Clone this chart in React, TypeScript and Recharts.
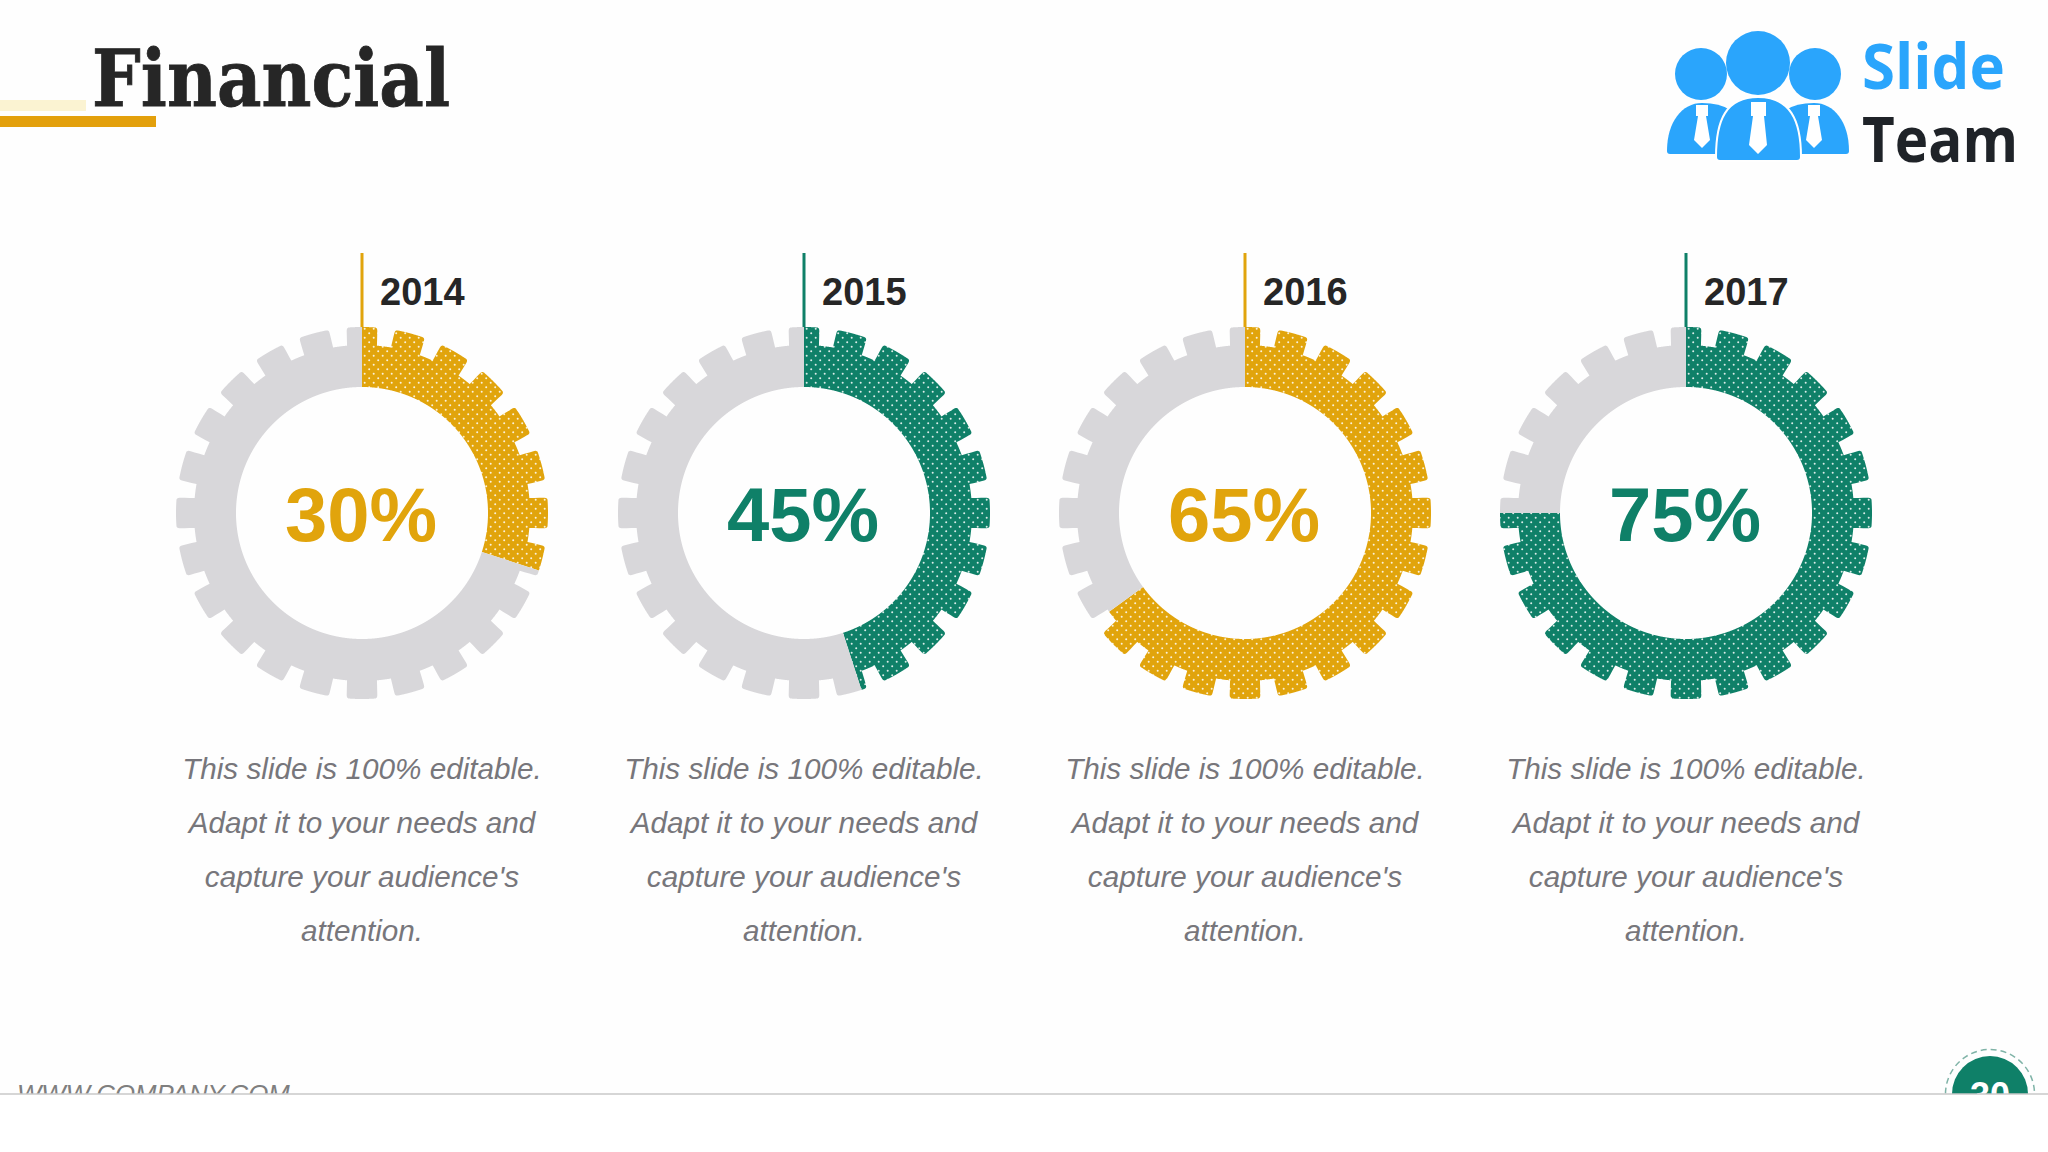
import { Cell, Pie, PieChart } from "recharts";

// chart values
const years = ["2014", "2015", "2016", "2017"];
const shares = [30, 45, 65, 75];
const shareColors = ["#E1A40C", "#0F8068", "#E1A40C", "#0F8068"];
const descriptionLines = [
  "This slide is 100% editable.",
  "Adapt it to your needs and",
  "capture your audience's",
  "attention.",
];

const TRACK = "#D8D7DA";
const SANS = "'Liberation Sans', Arial, sans-serif";
const CHART_W = 440;
const CHART_H = 720;
const CX = 220;
const CY = 263;
const centers = [362, 803.5, 1245, 1686];

const TEETH = 24;
const TOOTH_HEIGHT = 18;

// radius of the gear rim at a clockwise angle from 12 o'clock
function rimRadius(deg: number, outer: number) {
  const pitch = 360 / TEETH;
  const wrapped = ((deg % pitch) + pitch) % pitch;
  const d = Math.min(wrapped, pitch - wrapped);
  const root = outer - TOOTH_HEIGHT;
  if (d <= 4) return outer;
  if (d <= 4.8) {
    // rounded tooth corner
    const t = (d - 4) / 0.8;
    return outer - 3 * (1 - Math.sqrt(1 - t * t));
  }
  if (d <= 5.1) return outer - 3 - ((d - 4.8) / 0.3) * (TOOTH_HEIGHT - 3);
  return root;
}

function GearSector(props: any) {
  const { cx, cy, innerRadius, outerRadius, startAngle, endAngle, fill } = props;
  const from = 90 - startAngle;
  const to = 90 - endAngle;
  const pts: string[] = [];
  const polar = (deg: number, r: number) => {
    const a = (deg * Math.PI) / 180;
    return `${(cx + r * Math.sin(a)).toFixed(2)} ${(cy - r * Math.cos(a)).toFixed(2)}`;
  };
  const steps = Math.ceil((to - from) / 0.1);
  for (let i = 0; i <= steps; i++) {
    const deg = from + ((to - from) * i) / steps;
    pts.push(polar(deg, rimRadius(deg, outerRadius)));
  }
  for (let i = steps; i >= 0; i--) {
    const deg = from + ((to - from) * i) / steps;
    pts.push(polar(deg, innerRadius));
  }
  return <path d={`M${pts.join("L")}Z`} fill={fill} stroke="none" />;
}

function GearDonut({ index }: { index: number }) {
  const share = shares[index];
  const color = shareColors[index];
  const patternId = `dots-${index}`;
  const data = [
    { name: "share", value: share },
    { name: "rest", value: 100 - share },
  ];
  return (
    <div style={{ position: "absolute", left: centers[index] - CX, top: 250 }}>
      <PieChart width={CHART_W} height={CHART_H} margin={{ top: 0, right: 0, bottom: 0, left: 0 }}>
        <defs>
          <pattern id={patternId} width="9" height="9" patternUnits="userSpaceOnUse">
            <rect width="9" height="9" fill={color} />
            <circle cx="2.2" cy="2.2" r="1" fill="#FFFFFF" fillOpacity={0.85} />
            <circle cx="6.7" cy="6.7" r="1" fill="#FFFFFF" fillOpacity={0.85} />
          </pattern>
        </defs>
        <line x1={CX} x2={CX} y1={3} y2={78} stroke={color} strokeWidth={3} />
        <text x={CX + 18} y={55} fontFamily={SANS} fontWeight={700} fontSize={38} fill="#262626">
          {years[index]}
        </text>
        <Pie
          data={data}
          dataKey="value"
          cx={CX}
          cy={CY}
          innerRadius={126}
          outerRadius={186}
          startAngle={90}
          endAngle={-270}
          stroke="none"
          isAnimationActive={false}
          shape={GearSector}
        >
          <Cell fill={`url(#${patternId})`} />
          <Cell fill={TRACK} />
        </Pie>
        <text x={CX - 1} y={CY + 28} textAnchor="middle" fontFamily={SANS} fontWeight={700} fontSize={76} fill={color}>
          {share}%
        </text>
        {descriptionLines.map((line, i) => (
          <text
            key={line}
            x={CX}
            y={529 + i * 54}
            textAnchor="middle"
            fontFamily={SANS}
            fontStyle="italic"
            fontSize={29.7}
            fill="#77767B"
          >
            {line}
          </text>
        ))}
      </PieChart>
    </div>
  );
}

function Logo() {
  return (
    <svg width={2048} height={200} style={{ position: "absolute", left: 0, top: 0 }}>
      <circle cx={1701} cy={74} r={26} fill="#2AA5FC" />
      <circle cx={1815} cy={74} r={26} fill="#2AA5FC" />
      <circle cx={1758} cy={63} r={32} fill="#2AA5FC" />
      <path d="M1667 151Q1667 154 1670 154H1730V110Q1720 103 1702 103C1682 103 1667 122 1667 151Z" fill="#2AA5FC" />
      <path d="M1849 151Q1849 154 1846 154H1786V110Q1796 103 1814 103C1834 103 1849 122 1849 151Z" fill="#2AA5FC" />
      <path
        d="M1716 157Q1716 161 1720 161H1797Q1801 161 1801 157C1801 120 1790 97 1758 97C1726 97 1716 120 1716 157Z"
        fill="#2AA5FC"
        stroke="#FFFFFF"
        strokeWidth={2}
      />
      <path d="M1751 102H1766V116H1764L1767 145L1758 154L1749 145L1753 116H1751Z" fill="#FFFFFF" />
      <path d="M1696 105H1708V116H1706L1710 140L1702 148L1694 140L1698 116H1696Z" fill="#FFFFFF" />
      <path d="M1808 105H1820V116H1818L1822 140L1814 148L1806 140L1810 116H1808Z" fill="#FFFFFF" />
      <text x={1862} y={89} fontFamily="'Open Sans'" fontWeight={700} fontSize={62} fill="#2AA5FC" textLength={143} lengthAdjust="spacingAndGlyphs">
        Slide
      </text>
      <text x={1862} y={162} fontFamily="'Open Sans'" fontWeight={700} fontSize={62} fill="#1F2328" textLength={156} lengthAdjust="spacingAndGlyphs">
        Team
      </text>
    </svg>
  );
}

function Footer() {
  return (
    <svg width={2048} height={1152} style={{ position: "absolute", left: 0, top: 0, pointerEvents: "none" }}>
      <text x={17} y={1103} fontFamily={SANS} fontStyle="italic" fontSize={25.8} fill="#7F7F7F">
        WWW.COMPANY.COM
      </text>
      <circle cx={1990} cy={1094} r={44.5} fill="none" stroke="#7FB3A7" strokeWidth={1.5} strokeDasharray="6 4" />
      <circle cx={1990} cy={1094} r={38} fill="#0F8068" />
      <text x={1990} y={1108} textAnchor="middle" fontFamily={SANS} fontWeight={700} fontSize={36} fill="#FFFFFF">
        30
      </text>
      <rect x={0} y={1094} width={2048} height={58} fill="#FFFFFF" />
      <line x1={0} x2={2048} y1={1094} y2={1094} stroke="#C9C9C9" strokeWidth={1.5} />
    </svg>
  );
}

export default function App() {
  return (
    <div style={{ position: "absolute", left: 0, top: 0, width: 2048, height: 1152, background: "#FEFEFE", overflow: "hidden" }}>
      <div style={{ position: "absolute", left: 0, top: 100, width: 86, height: 11, background: "#FBF3D2" }} />
      <div style={{ position: "absolute", left: 0, top: 116, width: 156, height: 11, background: "#E3A00C" }} />
      <svg width={600} height={140} style={{ position: "absolute", left: 0, top: 0 }}>
        <text
          x={92}
          y={106}
          fontFamily="'DejaVu Serif'"
          fontWeight={700}
          fontSize={78}
          fill="#262626"
          stroke="#262626"
          strokeWidth={0.8}
          textLength={358}
          lengthAdjust="spacingAndGlyphs"
        >
          Financial
        </text>
      </svg>
      <Logo />
      {years.map((year, i) => (
        <GearDonut key={year} index={i} />
      ))}
      <Footer />
    </div>
  );
}
